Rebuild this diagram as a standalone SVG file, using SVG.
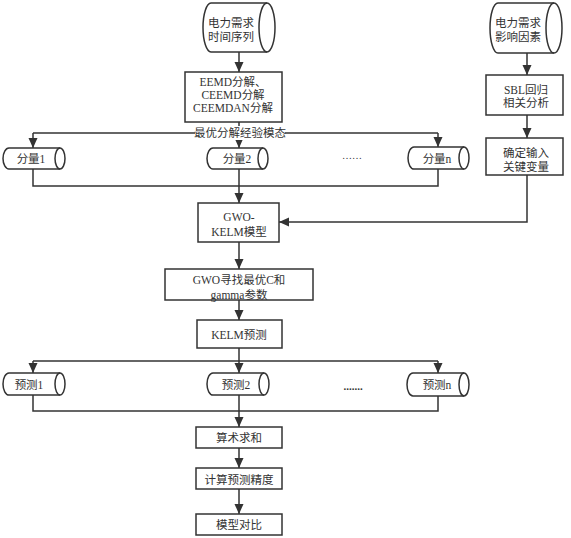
<svg xmlns="http://www.w3.org/2000/svg" width="571" height="538" viewBox="0 0 571 538">
<style>
.s{fill:#fff;stroke:#333;stroke-width:1.5}
.c{fill:none;stroke:#333;stroke-width:1.5}
.t{font-family:"Liberation Serif","Noto Sans CJK SC",serif;font-size:11.5px;fill:#333;text-anchor:middle;dominant-baseline:central}
</style>
<defs>
<marker id="a" markerUnits="userSpaceOnUse" markerWidth="10" markerHeight="10" refX="10" refY="4.5" orient="auto">
<path d="M0,0 L10,4.5 L0,9 Z" fill="#333"/>
</marker>
</defs>
<rect width="571" height="538" fill="#fff"/>
<g id="connectors">
<path class="c" d="M239,52 V72" marker-end="url(#a)"/>
<path class="c" d="M239,122 V148" marker-end="url(#a)"/>
<path class="c" d="M33,133 H438"/>
<path class="c" d="M33,133 V148" marker-end="url(#a)"/>
<path class="c" d="M438,133 V147" marker-end="url(#a)"/>
<path class="c" d="M33,169 V186 H438 V169"/>
<path class="c" d="M239,169 V203" marker-end="url(#a)"/>
<path class="c" d="M527,53 V75" marker-end="url(#a)"/>
<path class="c" d="M527,115 V138" marker-end="url(#a)"/>
<path class="c" d="M527,175 V222 H279" marker-end="url(#a)"/>
<path class="c" d="M239,242 V269" marker-end="url(#a)"/>
<path class="c" d="M239,300 V320" marker-end="url(#a)"/>
<path class="c" d="M239,348 V373" marker-end="url(#a)"/>
<path class="c" d="M33,361 H438"/>
<path class="c" d="M33,361 V373" marker-end="url(#a)"/>
<path class="c" d="M438,361 V373" marker-end="url(#a)"/>
<path class="c" d="M33,395 V411 H438 V396"/>
<path class="c" d="M239,395 V427" marker-end="url(#a)"/>
<path class="c" d="M239,448 V468" marker-end="url(#a)"/>
<path class="c" d="M239,489 V514" marker-end="url(#a)"/>
<rect x="195" y="126" width="90" height="14" fill="#fff"/>
<text class="t" x="240" y="133">最优分解经验模态</text>
</g>
<g id="demand-series">
<path class="s" d="M211,3 H267 A8,24.5 0 0 1 267,52 H211 A8,24.5 0 0 1 211,3 Z"/>
<path class="c" d="M267,3 A8,24.5 0 0 0 267,52"/>
<text class="t" x="231" y="23">电力需求</text>
<text class="t" x="231" y="37">时间序列</text>
</g>
<g id="decomp">
<rect class="s" x="185" y="72" width="97" height="50"/>
<text class="t" x="233" y="82">EEMD分解、</text>
<text class="t" x="233" y="95">CEEMD分解</text>
<text class="t" x="233" y="108">CEEMDAN分解</text>
</g>
<g id="factors">
<path class="s" d="M498,3 H554 A8,25 0 0 1 554,53 H498 A8,25 0 0 1 498,3 Z"/>
<path class="c" d="M554,3 A8,25 0 0 0 554,53"/>
<text class="t" x="518" y="23">电力需求</text>
<text class="t" x="518" y="37">影响因素</text>
</g>
<g id="sbl">
<rect class="s" x="486" y="75" width="77" height="40"/>
<text class="t" x="526" y="90">SBL回归</text>
<text class="t" x="526" y="103">相关分析</text>
</g>
<g id="keyvars">
<rect class="s" x="486" y="138" width="77" height="37"/>
<text class="t" x="526" y="153">确定输入</text>
<text class="t" x="526" y="167">关键变量</text>
</g>
<g id="comp1">
<path class="s" d="M9,148 H60 A5,10.5 0 0 1 60,169 H9 A6,10.5 0 0 1 9,148 Z"/>
<path class="c" d="M60,148 A5,10.5 0 0 0 60,169"/>
<text class="t" x="31" y="159">分量1</text>
</g>
<g id="comp2">
<path class="s" d="M213,148 H263 A5,10.5 0 0 1 263,169 H213 A6,10.5 0 0 1 213,148 Z"/>
<path class="c" d="M263,148 A5,10.5 0 0 0 263,169"/>
<text class="t" x="237" y="159">分量2</text>
</g>
<text class="t" x="352" y="155" style="font-size:10px">……</text>
<g id="compn">
<path class="s" d="M414,147 H464 A5,11 0 0 1 464,169 H414 A6,11 0 0 1 414,147 Z"/>
<path class="c" d="M464,147 A5,11 0 0 0 464,169"/>
<text class="t" x="437" y="159">分量n</text>
</g>
<g id="gwo-kelm">
<rect class="s" x="198" y="203" width="81" height="39"/>
<text class="t" x="239" y="217">GWO-</text>
<text class="t" x="239" y="232">KELM模型</text>
</g>
<g id="gwo-search">
<rect class="s" x="165" y="269" width="148" height="31"/>
<text class="t" x="239" y="280">GWO寻找最优C和</text>
<text class="t" x="239" y="295">gamma参数</text>
</g>
<g id="kelm-pred">
<rect class="s" x="197" y="320" width="85" height="28"/>
<text class="t" x="239" y="335">KELM预测</text>
</g>
<g id="pred1">
<path class="s" d="M9,373 H60 A5,11 0 0 1 60,395 H9 A6,11 0 0 1 9,373 Z"/>
<path class="c" d="M60,373 A5,11 0 0 0 60,395"/>
<text class="t" x="29" y="385">预测1</text>
</g>
<g id="pred2">
<path class="s" d="M213,373 H264 A5,11 0 0 1 264,395 H213 A6,11 0 0 1 213,373 Z"/>
<path class="c" d="M264,373 A5,11 0 0 0 264,395"/>
<text class="t" x="236" y="385">预测2</text>
</g>
<text class="t" x="353" y="386" style="font-size:11px;font-weight:bold">.......</text>
<g id="predn">
<path class="s" d="M413,373 H464 A5,11.5 0 0 1 464,396 H413 A6,11.5 0 0 1 413,373 Z"/>
<path class="c" d="M464,373 A5,11.5 0 0 0 464,396"/>
<text class="t" x="437" y="385">预测n</text>
</g>
<g id="sum">
<rect class="s" x="196" y="427" width="86" height="21"/>
<text class="t" x="239" y="438">算术求和</text>
</g>
<g id="accuracy">
<rect class="s" x="196" y="468" width="86" height="21"/>
<text class="t" x="239" y="480">计算预测精度</text>
</g>
<g id="compare">
<rect class="s" x="196" y="514" width="86" height="21"/>
<text class="t" x="239" y="525">模型对比</text>
</g>
</svg>
